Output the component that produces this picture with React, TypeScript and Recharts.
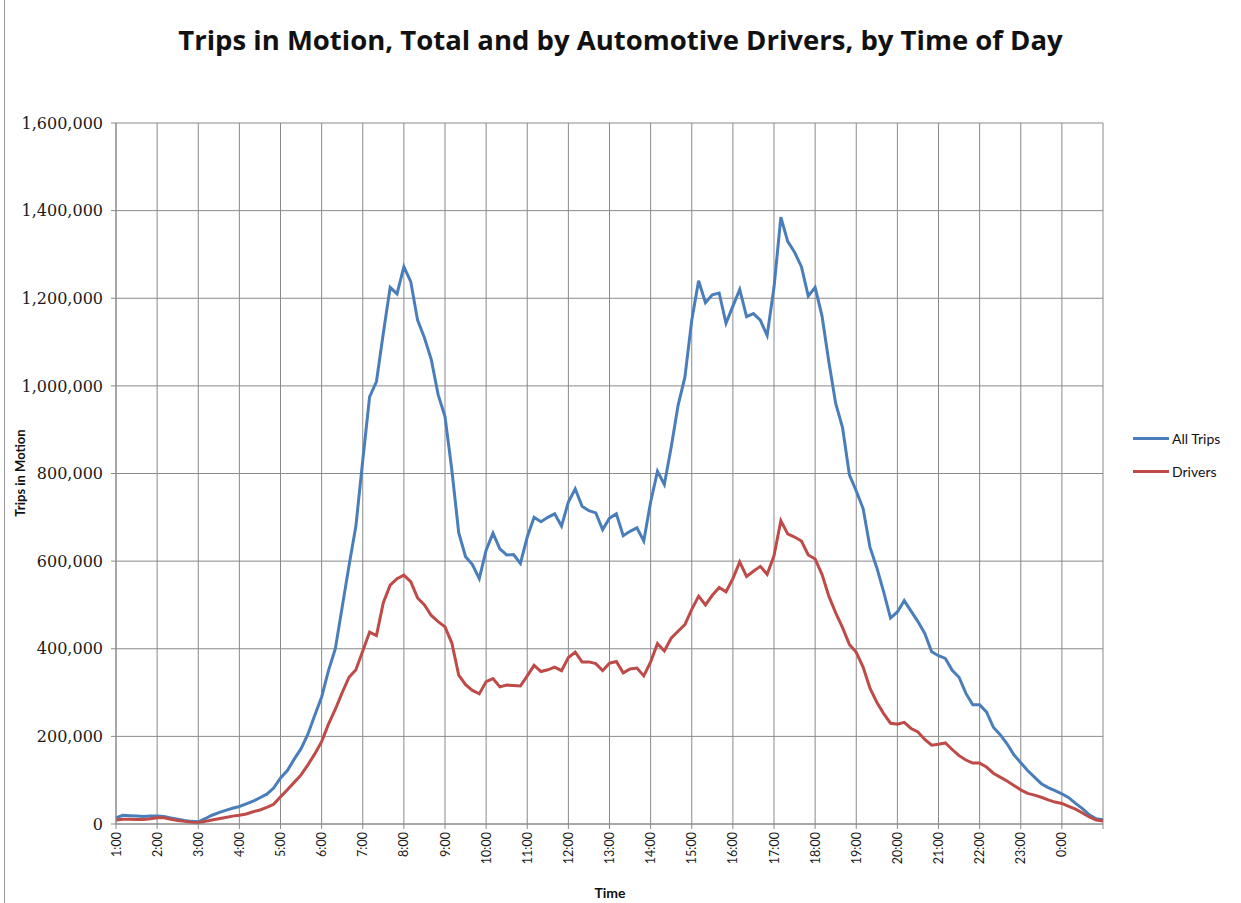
import React from 'react';
import { LineChart, Line, XAxis, YAxis, CartesianGrid, Legend } from 'recharts';

// time of day, every 10 minutes, 1:00 through 1:00 next morning
const times = [
  '1:00', '1:10', '1:20', '1:30', '1:40', '1:50',
  '2:00', '2:10', '2:20', '2:30', '2:40', '2:50',
  '3:00', '3:10', '3:20', '3:30', '3:40', '3:50',
  '4:00', '4:10', '4:20', '4:30', '4:40', '4:50',
  '5:00', '5:10', '5:20', '5:30', '5:40', '5:50',
  '6:00', '6:10', '6:20', '6:30', '6:40', '6:50',
  '7:00', '7:10', '7:20', '7:30', '7:40', '7:50',
  '8:00', '8:10', '8:20', '8:30', '8:40', '8:50',
  '9:00', '9:10', '9:20', '9:30', '9:40', '9:50',
  '10:00', '10:10', '10:20', '10:30', '10:40', '10:50',
  '11:00', '11:10', '11:20', '11:30', '11:40', '11:50',
  '12:00', '12:10', '12:20', '12:30', '12:40', '12:50',
  '13:00', '13:10', '13:20', '13:30', '13:40', '13:50',
  '14:00', '14:10', '14:20', '14:30', '14:40', '14:50',
  '15:00', '15:10', '15:20', '15:30', '15:40', '15:50',
  '16:00', '16:10', '16:20', '16:30', '16:40', '16:50',
  '17:00', '17:10', '17:20', '17:30', '17:40', '17:50',
  '18:00', '18:10', '18:20', '18:30', '18:40', '18:50',
  '19:00', '19:10', '19:20', '19:30', '19:40', '19:50',
  '20:00', '20:10', '20:20', '20:30', '20:40', '20:50',
  '21:00', '21:10', '21:20', '21:30', '21:40', '21:50',
  '22:00', '22:10', '22:20', '22:30', '22:40', '22:50',
  '23:00', '23:10', '23:20', '23:30', '23:40', '23:50',
  '0:00', '0:10', '0:20', '0:30', '0:40', '0:50',
  '1:00',
];

const allTrips = [
  14000, 20000, 19000, 18000, 17000, 18000,
  18000, 17000, 14000, 11000, 8000, 6000,
  5000, 12000, 20000, 26000, 31000, 36000,
  40000, 46000, 52000, 60000, 68000, 82000,
  105000, 122000, 148000, 172000, 205000, 248000,
  290000, 350000, 400000, 495000, 590000, 680000,
  830000, 975000, 1010000, 1120000, 1225000, 1210000,
  1272000, 1238000, 1150000, 1110000, 1060000, 980000,
  930000, 808000, 665000, 610000, 592000, 560000,
  625000, 664000, 628000, 614000, 615000, 595000,
  655000, 700000, 690000, 700000, 708000, 680000,
  735000, 765000, 725000, 715000, 710000, 672000,
  698000, 708000, 658000, 668000, 676000, 646000,
  735000, 805000, 775000, 860000, 955000, 1020000,
  1150000, 1240000, 1190000, 1208000, 1212000, 1143000,
  1182000, 1220000, 1158000, 1165000, 1150000, 1115000,
  1225000, 1385000, 1330000, 1305000, 1272000, 1205000,
  1225000, 1160000, 1055000, 960000, 905000, 797000,
  760000, 720000, 632000, 585000, 530000, 470000,
  484000, 510000, 486000, 462000, 435000, 393000,
  384000, 378000, 351000, 335000, 298000, 272000,
  272000, 256000, 221000, 204000, 183000, 158000,
  140000, 122000, 107000, 92000, 83000, 76000,
  69000, 60000, 47000, 35000, 21000, 12000,
  10000,
];

const drivers = [
  9000, 11000, 11000, 10000, 10000, 12000,
  14000, 14000, 11000, 8000, 6000, 4000,
  3000, 6000, 9000, 12000, 15000, 18000,
  20000, 23000, 28000, 32000, 38000, 45000,
  62000, 78000, 95000, 112000, 135000, 160000,
  188000, 228000, 262000, 300000, 335000, 352000,
  395000, 438000, 430000, 505000, 545000, 560000,
  568000, 553000, 516000, 500000, 476000, 462000,
  450000, 413000, 340000, 318000, 305000, 297000,
  325000, 332000, 313000, 317000, 316000, 315000,
  338000, 362000, 348000, 352000, 358000, 350000,
  380000, 392000, 370000, 370000, 366000, 350000,
  367000, 371000, 345000, 354000, 356000, 338000,
  370000, 412000, 395000, 424000, 440000, 455000,
  490000, 520000, 500000, 522000, 540000, 530000,
  560000, 598000, 565000, 577000, 588000, 570000,
  612000, 692000, 662000, 655000, 646000, 614000,
  605000, 570000, 520000, 482000, 448000, 410000,
  392000, 358000, 310000, 278000, 252000, 230000,
  228000, 232000, 218000, 210000, 193000, 180000,
  182000, 185000, 170000, 156000, 146000, 139000,
  139000, 130000, 116000, 107000, 98000, 88000,
  78000, 70000, 66000, 61000, 55000, 50000,
  47000, 40000, 34000, 25000, 16000, 9000,
  7000,
];

const yTicks = [0, 200000, 400000, 600000, 800000, 1000000, 1200000, 1400000, 1600000];

const seriesInfo = [
  { key: 'allTrips', name: 'All Trips', color: '#4a7ebb' },
  { key: 'drivers', name: 'Drivers', color: '#be4b48' },
];

const data = times.map((t, i) => ({ time: t, allTrips: allTrips[i], drivers: drivers[i] }));

const GRID = '#8a8a8a';
const SANS = 'Lato, "Open Sans", sans-serif';

const TimeTick = (props: any) => {
  const { x, y, payload, index, visibleTicksCount } = props;
  if (index === visibleTicksCount - 1) return <g />;
  const ty = y + 1;
  return (
    <text
      x={x}
      y={ty}
      transform={`rotate(-90, ${x}, ${ty})`}
      textAnchor="end"
      dominantBaseline="central"
      fontFamily={SANS}
      fontSize={12.5}
      fill="#1a1a1a"
    >
      {payload.value}
    </text>
  );
};

const yTitle = () => (
  <text
    x={20}
    y={473}
    transform="rotate(-90, 20, 473)"
    textAnchor="middle"
    dominantBaseline="central"
    fontFamily={SANS}
    fontWeight="bold"
    fontSize={13}
    fill="#111"
  >
    Trips in Motion
  </text>
);

const xTitle = () => (
  <text x={610} y={898} textAnchor="middle" fontFamily={SANS} fontWeight="bold" fontSize={14} fill="#111">
    Time
  </text>
);

const LegendBox = () => (
  <div style={{ fontFamily: SANS, fontSize: 14, color: '#111' }}>
    {seriesInfo.map((s) => (
      <div key={s.key} style={{ display: 'flex', alignItems: 'center', height: 33 }}>
        <span style={{ display: 'inline-block', width: 36, height: 3, background: s.color, marginRight: 3 }} />
        <span>{s.name}</span>
      </div>
    ))}
  </div>
);

const App = () => {
  return (
    <div style={{ position: 'absolute', left: 0, top: 0, width: 1241, height: 903, background: '#fff' }}>
      <div style={{ position: 'absolute', left: 4, top: 0, width: 1, height: 903, background: '#9a9a9a' }} />
      <div
        style={{
          position: 'absolute',
          left: 0,
          top: 21,
          width: 1241,
          textAlign: 'center',
          fontFamily: '"Open Sans", Lato, sans-serif',
          fontWeight: 'bold',
          fontSize: 27.5,
          color: '#111',
        }}
      >
        Trips in Motion, Total and by Automotive Drivers, by Time of Day
      </div>
      <LineChart width={1241} height={903} data={data} margin={{ top: 123, right: 138, bottom: 3, left: 0 }}>
        <CartesianGrid stroke={GRID} strokeWidth={1} />
        <XAxis
          dataKey="time"
          interval={5}
          height={76}
          tick={<TimeTick />}
          tickSize={5}
          stroke={GRID}
          label={xTitle}
        />
        <YAxis
          width={116}
          domain={[0, 1600000]}
          ticks={yTicks}
          tickFormatter={(v: number) => v.toLocaleString('en-US')}
          tick={{ fill: '#1a1a1a', fontSize: 16, fontFamily: '"DejaVu Serif", serif' }}
          tickSize={5}
          tickMargin={8}
          stroke={GRID}
          label={yTitle}
        />
        <Legend
          layout="horizontal"
          align="center"
          verticalAlign="middle"
          wrapperStyle={{ left: 1133, top: 422, width: 110 }}
          content={<LegendBox />}
        />
        {seriesInfo.map((s) => (
          <Line
            key={s.key}
            dataKey={s.key}
            name={s.name}
            stroke={s.color}
            strokeWidth={3}
            dot={false}
            type="linear"
            isAnimationActive={false}
          />
        ))}
      </LineChart>
    </div>
  );
};

export default App;
